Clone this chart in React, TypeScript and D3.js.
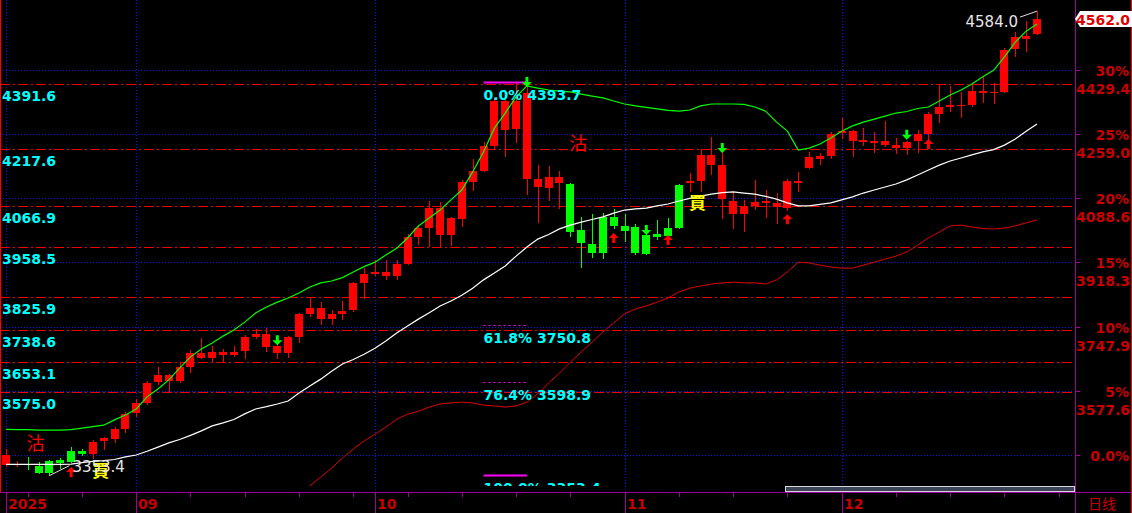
import * as d3 from 'd3'

// chart frame
const W = 1132
const H = 513
const plotRight = 1075
const axisY = 492
const clipBottom = 486

// right axis: percent from base price
const basePrice = 3407.2
const pctTicks = [0, 5, 10, 15, 20, 25, 30]
const pctLabels = ['0.0%', '5%', '10%', '15%', '20%', '25%', '30%']
const pctPrices = ['', '3577.6', '3747.9', '3918.3', '4088.6', '4259.0', '4429.4']

// user drawn horizontal lines (left cyan labels)
const levelLines = [4391.6, 4217.6, 4066.9, 3958.5, 3825.9, 3738.6, 3653.1, 3575.0]
const levelLabels = ['4391.6', '4217.6', '4066.9', '3958.5', '3825.9', '3738.6', '3653.1', '3575.0']

// fibonacci tool
const fibPrices = [4393.7, 3750.8, 3598.9, 3353.4]
const fibLabels = ['0.0% 4393.7', '61.8% 3750.8', '76.4% 3598.9', '100.0% 3353.4']
const fibSolid = [true, false, false, true]
const fibFrom = 44
const fibTo = 48

// x axis
const monthIdx = [0, 12, 34, 57, 77]
const monthLabels = ['2025', '09', '10', '11', '12']

// daily candles [open, high, low, close] (red when close >= open)
const candles = [
  [3381, 3424, 3376, 3408], [3383, 3392, 3376, 3385], [3385, 3402, 3368, 3383], [3379, 3389, 3357, 3360],
  [3392, 3395, 3353.4, 3360], [3395, 3400, 3371, 3387], [3418, 3429, 3387, 3389], [3418, 3424, 3405, 3410],
  [3410, 3447, 3397, 3442], [3445, 3455, 3421, 3453], [3450, 3482, 3440, 3477], [3477, 3522, 3466, 3516],
  [3519, 3556, 3508, 3546], [3546, 3604, 3540, 3599], [3601, 3641, 3593, 3620], [3604, 3622, 3575, 3620],
  [3604, 3654, 3599, 3641], [3641, 3686, 3625, 3678], [3665, 3718, 3662, 3678], [3665, 3697, 3654, 3681],
  [3673, 3689, 3654, 3681], [3673, 3697, 3667, 3681], [3683, 3726, 3662, 3720], [3720, 3742, 3715, 3728],
  [3694, 3744, 3681, 3728], [3678, 3699, 3662, 3697], [3678, 3723, 3665, 3720], [3720, 3784, 3705, 3781],
  [3781, 3826, 3773, 3797], [3768, 3813, 3752, 3797], [3768, 3792, 3752, 3781], [3781, 3816, 3766, 3789],
  [3792, 3866, 3787, 3864], [3864, 3903, 3821, 3887], [3887, 3925, 3882, 3893], [3882, 3925, 3872, 3893],
  [3882, 3925, 3872, 3914], [3914, 3993, 3911, 3986], [3986, 4015, 3964, 4009], [4009, 4081, 3959, 4062],
  [3991, 4078, 3959, 4062], [3991, 4039, 3962, 4036], [4033, 4137, 4012, 4131], [4131, 4192, 4107, 4160],
  [4160, 4237, 4158, 4227], [4227, 4354, 4216, 4346], [4269, 4354, 4197, 4346], [4272, 4393.7, 4235, 4346],
  [4139, 4388, 4097, 4367], [4118, 4176, 4023, 4139], [4115, 4174, 4081, 4145], [4129, 4160, 4060, 4145],
  [4126, 4129, 3986, 3999], [4004, 4039, 3903, 3970], [3967, 4046, 3930, 3943], [4039, 4049, 3927, 3943],
  [4039, 4060, 4007, 4015], [4015, 4046, 3972, 4001], [4012, 4020, 3938, 3943], [3991, 4015, 3938, 3940],
  [3993, 4031, 3978, 3986], [4009, 4036, 3986, 3988], [4123, 4126, 4007, 4009], [4129, 4155, 4105, 4134],
  [4134, 4219, 4105, 4203], [4176, 4251, 4150, 4203], [4086, 4219, 4033, 4176], [4046, 4107, 4007, 4081],
  [4046, 4084, 3999, 4065], [4068, 4137, 4057, 4078], [4076, 4110, 4036, 4081], [4065, 4102, 4020, 4076],
  [4062, 4139, 4054, 4134], [4129, 4158, 4105, 4134], [4168, 4211, 4166, 4197], [4192, 4208, 4176, 4200],
  [4200, 4264, 4192, 4258], [4261, 4301, 4245, 4266], [4240, 4269, 4197, 4266], [4237, 4274, 4227, 4243],
  [4235, 4264, 4208, 4240], [4229, 4293, 4224, 4240], [4221, 4248, 4205, 4229], [4221, 4240, 4203, 4237],
  [4240, 4269, 4208, 4258], [4258, 4317, 4221, 4311], [4311, 4388, 4288, 4330], [4330, 4386, 4317, 4335],
  [4333, 4370, 4301, 4335], [4335, 4391, 4330, 4372], [4367, 4410, 4341, 4372], [4367, 4394, 4338, 4370],
  [4370, 4486, 4367, 4481], [4484, 4529, 4463, 4516], [4510, 4558, 4476, 4518], [4523, 4584, 4521, 4562],
]

// bollinger bands
const upper = [
  3476, 3475, 3475, 3474, 3474, 3474, 3475, 3479, 3483, 3487, 3501, 3514, 3530, 3562, 3583, 3607,
  3638, 3668, 3689, 3705, 3723, 3739, 3760, 3784, 3800, 3813, 3824, 3837, 3853, 3864, 3869, 3878,
  3893, 3907, 3919, 3938, 3956, 3983, 4015, 4036, 4057, 4084, 4110, 4158, 4211, 4274, 4314, 4357,
  4386, 4380, 4375, 4372, 4370, 4364, 4359, 4354, 4346, 4338, 4333, 4329, 4325, 4321, 4319, 4322,
  4333, 4338, 4338, 4338, 4337, 4330, 4319, 4290, 4266, 4216, 4221, 4232, 4248, 4266, 4280, 4290,
  4298, 4306, 4314, 4318, 4326, 4330, 4346, 4362, 4375, 4391, 4410, 4427, 4463, 4502, 4531, 4550,
]
const middle = [
  3383, 3383, 3383, 3383, 3383, 3383, 3384, 3388, 3391, 3393, 3396, 3403, 3408, 3418, 3429, 3440,
  3449, 3460, 3472, 3485, 3493, 3502, 3517, 3530, 3536, 3543, 3551, 3572, 3591, 3609, 3630, 3649,
  3661, 3675, 3691, 3710, 3731, 3750, 3768, 3785, 3803, 3816, 3831, 3850, 3872, 3890, 3909, 3935,
  3959, 3980, 3992, 4007, 4017, 4025, 4032, 4039, 4049, 4057, 4060, 4062, 4068, 4073, 4081, 4088,
  4094, 4099, 4103, 4105, 4102, 4099, 4093, 4086, 4076, 4068, 4068, 4072, 4076, 4084, 4092, 4102,
  4110, 4118, 4126, 4137, 4150, 4163, 4176, 4187, 4195, 4203, 4211, 4217, 4229, 4245, 4266, 4285,
]
const lower = [
  null, null, null, null, null, null, null, null, null, null, null, null, null, null, null, null,
  null, null, null, null, null, null, null, null, null, null, null, 3307, 3326, 3350, 3373, 3400,
  3424, 3445, 3463, 3482, 3503, 3516, 3524, 3535, 3543, 3546, 3548, 3546, 3540, 3538, 3535, 3538,
  3548, 3570, 3599, 3625, 3654, 3681, 3707, 3734, 3758, 3782, 3795, 3803, 3813, 3824, 3840, 3850,
  3856, 3861, 3864, 3866, 3864, 3864, 3861, 3872, 3893, 3919, 3917, 3911, 3906, 3903, 3903, 3911,
  3919, 3927, 3935, 3946, 3964, 3983, 3999, 4015, 4017, 4012, 4008, 4007, 4009, 4015, 4023, 4031,
]

// signals: [index, price at arrow tip]
const buyArrows = [[6, 3376], [56, 3996], [61, 3991], [72, 4046], [85, 4245]]
const sellArrows = [[25, 3699], [48, 4383], [59, 3991], [66, 4208], [83, 4243]]
// text signals: [index, price at centre]
const sellMarks = [[3, 3440], [53, 4235]]
const buyMarks = [[9, 3368], [64, 4078]]

const highLabel = '4584.0'
const lowLabel = '3353.4'
const lastLabel = '4562.0'

const RED = '#ff0000'
const GREEN = '#00ff00'
const PURPLE = '#a000a0'
const AXIS_RED = '#c80000'
const BLUE = '#1414e6'
const NUM_FONT = '"DejaVu Sans", sans-serif'
const CJK_FONT = '"Noto Sans CJK SC", sans-serif'

export default function App() {
  const x = d3.scaleLinear().domain([0, candles.length - 1]).range([6, 1037])
  const y = d3.scaleLinear().domain([basePrice, basePrice * 1.3]).range([455.3, 69.5])
  const cx = (i: number) => Math.round(x(i))
  const py = (p: number) => Math.round(y(p))

  const band = (vals: (number | null)[]) =>
    d3.line<number | null>()
      .defined(d => d != null)
      .x((_, i) => x(i))
      .y(d => y(d as number))(vals) || ''

  const weekTicks = d3.range(2, candles.length + 2, 5).filter(i => x(i) < plotRight)

  const hiIdx = d3.maxIndex(candles, c => c[1])
  const loIdx = d3.minIndex(candles, c => c[2])
  const hiX = x(hiIdx), hiY = y(candles[hiIdx][1])
  const loX = x(loIdx), loY = y(candles[loIdx][2])
  const lastY = py(candles[candles.length - 1][3])

  return (
    <svg width={W} height={H} style={{ position: 'absolute', left: 0, top: 0, background: '#000' }}>
      <defs>
        <clipPath id="plot">
          <rect x={0} y={0} width={plotRight} height={clipBottom} />
        </clipPath>
      </defs>
      <rect x={0} y={0} width={W} height={H} fill="#000" />

      {/* percent grid */}
      <g shapeRendering="crispEdges">
        {pctTicks.map(p => {
          const yy = py(basePrice * (1 + p / 100)) + 0.5
          return (
            <g key={p}>
              <line x1={0} x2={plotRight - 2} y1={yy} y2={yy} stroke={BLUE} strokeDasharray="1 2" />
              <line x1={plotRight} x2={plotRight + 5} y1={yy} y2={yy} stroke={PURPLE} />
            </g>
          )
        })}
        {monthIdx.map(i => (
          <line key={i} x1={cx(i) + 0.5} x2={cx(i) + 0.5} y1={0} y2={axisY} stroke={BLUE} strokeDasharray="1 2" />
        ))}
        {levelLines.map(v => (
          <line key={v} x1={0} x2={plotRight - 2} y1={py(v) + 0.5} y2={py(v) + 0.5}
            stroke="#ee0000" strokeDasharray="10 3 2 3" />
        ))}
      </g>

      <g clipPath="url(#plot)">
        {/* candles */}
        <g shapeRendering="crispEdges">
          {candles.map(([o, h, l, c], i) => {
            const col = c >= o ? RED : GREEN
            const top = py(Math.max(o, c))
            const bot = py(Math.min(o, c))
            return (
              <g key={i}>
                <line x1={cx(i) + 0.5} x2={cx(i) + 0.5} y1={py(h)} y2={py(l)} stroke={col} />
                <rect x={cx(i) - 4} y={top} width={8} height={Math.max(1, bot - top)} fill={col} />
              </g>
            )
          })}
        </g>

        {/* bands */}
        <path d={band(lower)} fill="none" stroke="#e00000" strokeWidth={1} />
        <path d={band(middle)} fill="none" stroke="#ffffff" strokeWidth={1.2} />
        <path d={band(upper)} fill="none" stroke={GREEN} strokeWidth={1.2} />

        {/* fibonacci */}
        {fibPrices.map((v, k) => (
          <g key={v}>
            <line x1={x(fibFrom)} x2={x(fibTo)} y1={py(v) - 0.5} y2={py(v) - 0.5}
              stroke="#ff00ff" strokeWidth={fibSolid[k] ? 2 : 1} strokeDasharray={fibSolid[k] ? undefined : '2 3'} />
            <text x={x(fibFrom)} y={py(v) + 17} fill="#00ffff" fontFamily={NUM_FONT} fontWeight="bold" fontSize={14}>
              {fibLabels[k]}
            </text>
          </g>
        ))}

        {/* arrows */}
        {buyArrows.map(([i, p]) => {
          const X = x(i), T = y(p)
          return (
            <polygon key={'b' + i} fill={RED}
              points={`${X},${T} ${X - 5},${T + 5} ${X - 1.5},${T + 5} ${X - 1.5},${T + 10} ${X + 1.5},${T + 10} ${X + 1.5},${T + 5} ${X + 5},${T + 5}`} />
          )
        })}
        {sellArrows.map(([i, p]) => {
          const X = x(i), T = y(p)
          return (
            <polygon key={'s' + i} fill={GREEN}
              points={`${X},${T} ${X - 5},${T - 5} ${X - 1.5},${T - 5} ${X - 1.5},${T - 10} ${X + 1.5},${T - 10} ${X + 1.5},${T - 5} ${X + 5},${T - 5}`} />
          )
        })}
        {sellMarks.map(([i, p]) => (
          <text key={'sm' + i} x={x(i) - 3} y={y(p) + 7} textAnchor="middle" fill={RED}
            fontFamily={CJK_FONT} fontSize={18}>沽</text>
        ))}
        {buyMarks.map(([i, p]) => (
          <text key={'bm' + i} x={x(i) - 3} y={y(p) + 7} textAnchor="middle" fill="#ffff00"
            fontFamily={CJK_FONT} fontWeight="bold" fontSize={17}>買</text>
        ))}

        {/* high / low marks */}
        <line x1={hiX} y1={hiY} x2={hiX - 17} y2={hiY + 6} stroke="#e0e0e0" />
        <text x={hiX - 19} y={hiY + 16} textAnchor="end" fill="#e6e6e6" fontFamily={NUM_FONT} fontSize={15}>{highLabel}</text>
        <line x1={loX} y1={loY} x2={loX + 20} y2={loY - 10} stroke="#e0e0e0" />
        <text x={loX + 23} y={loY - 3.5} fill="#e6e6e6" fontFamily={NUM_FONT} fontSize={15}>{lowLabel}</text>
      </g>

      {/* left labels for drawn lines */}
      {levelLines.map((v, k) => (
        <text key={v} x={2} y={py(v) + 17} fill="#00ffff" fontFamily={NUM_FONT} fontWeight="bold" fontSize={14}>
          {levelLabels[k]}
        </text>
      ))}

      {/* frame */}
      <g shapeRendering="crispEdges">
        <line x1={0.5} x2={0.5} y1={0} y2={axisY} stroke={RED} />
        <line x1={W - 0.5} x2={W - 0.5} y1={0} y2={H} stroke={RED} />
        <line x1={plotRight + 0.5} x2={plotRight + 0.5} y1={0} y2={H} stroke={PURPLE} />
        <line x1={0} x2={W} y1={axisY + 0.5} y2={axisY + 0.5} stroke={PURPLE} />
        {weekTicks.map(i => (
          <line key={i} x1={cx(i) + 0.5} x2={cx(i) + 0.5} y1={axisY} y2={axisY + 5} stroke={PURPLE} />
        ))}
        {monthIdx.map(i => (
          <line key={i} x1={cx(i) + 0.5} x2={cx(i) + 0.5} y1={axisY} y2={H} stroke={PURPLE} />
        ))}
        <rect x={785.5} y={486.5} width={289} height={5} fill="#3a4658" stroke="#d8d8d8" />
      </g>

      {/* month labels */}
      {monthIdx.map((i, k) => (
        <text key={i} x={cx(i) + 2} y={509} fill={AXIS_RED} fontFamily={NUM_FONT} fontWeight="bold" fontSize={14}>
          {monthLabels[k]}
        </text>
      ))}
      <text x={1088} y={509} fill={AXIS_RED} fontFamily={CJK_FONT} fontSize={14}>日线</text>

      {/* right axis labels */}
      {pctTicks.map((p, k) => {
        const yy = y(basePrice * (1 + p / 100))
        return (
          <g key={p}>
            <text x={1129} y={yy + 6} textAnchor="end" fill={AXIS_RED} fontFamily={NUM_FONT} fontWeight="bold" fontSize={14}>
              {pctLabels[k]}
            </text>
            {pctPrices[k] && (
              <text x={1130} y={yy + 24} textAnchor="end" fill={AXIS_RED} fontFamily={NUM_FONT} fontWeight="bold" fontSize={14}>
                {pctPrices[k]}
              </text>
            )}
          </g>
        )
      })}

      {/* last price tag */}
      <polygon points={`${plotRight},${lastY} ${plotRight + 5},${lastY - 8} ${W},${lastY - 8} ${W},${lastY + 8} ${plotRight + 5},${lastY + 8}`} fill="#ffffff" />
      <text x={1130} y={lastY + 6} textAnchor="end" fill="#e00000" fontFamily={NUM_FONT} fontWeight="bold" fontSize={14}>{lastLabel}</text>
    </svg>
  )
}
